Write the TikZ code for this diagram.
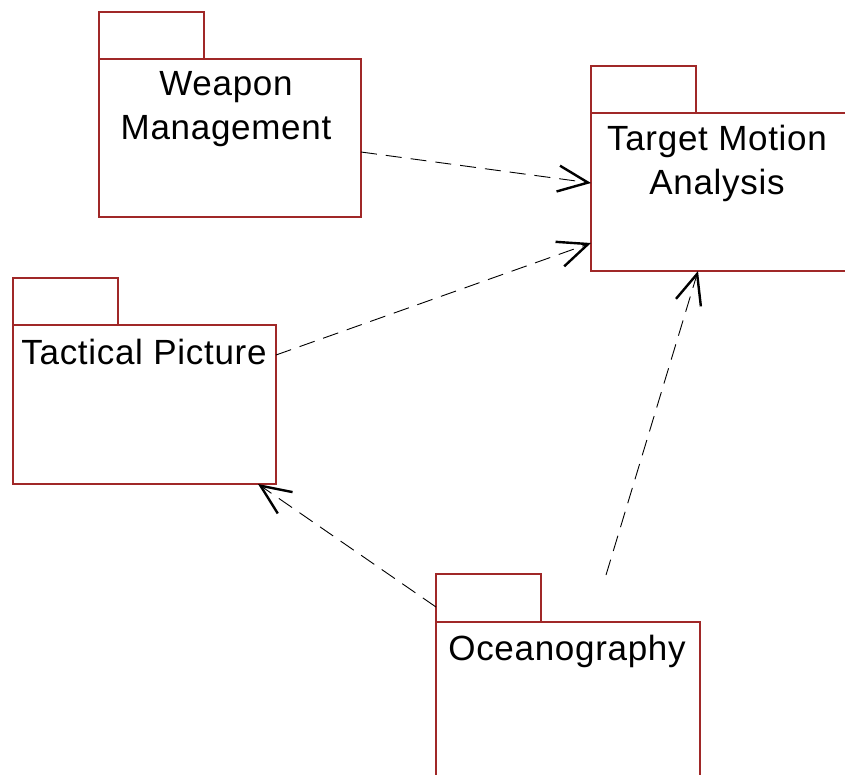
\documentclass[tikz,border=0pt]{standalone}
\usepackage{fontspec}
\setmainfont[LetterSpace=2]{Liberation Sans}
\usetikzlibrary{arrows.meta}
\definecolor{pkgred}{RGB}{160,40,40}
\tikzset{
  pkgbody/.style={draw=pkgred, line width=1.3pt, minimum width=262pt, minimum height=158pt, anchor=north west, inner sep=0pt, outer sep=0pt},
  pkgtab/.style={draw=pkgred, line width=1.3pt, minimum width=105pt, minimum height=47pt, anchor=south west, inner sep=0pt, outer sep=0pt},
  pkglabel/.style={font=\fontsize{35}{44}\selectfont, align=center, anchor=north, inner sep=0pt, text=black},
  dep/.style={draw=black, line width=0.9pt, dash pattern=on 16pt off 9pt, -{Straight Barb[length=30pt,width=26pt,line width=2.4pt]}}
}
\begin{document}
\begin{tikzpicture}[x=1pt,y=1pt]
\useasboundingbox (0,0) rectangle (845,-774);
\clip (0,0) rectangle (845,-774);
% Weapon Management
\node[pkgbody] (wm) at (99,-59) {};
\node[pkgtab] (wmtab) at (wm.north west) {};
\node[pkglabel] (wmlabel) at (226,-71) {Weapon\\Management};
% Target Motion Analysis
\node[pkgbody] (tma) at (591,-113) {};
\node[pkgtab] (tmatab) at (tma.north west) {};
\node[pkglabel] (tmalabel) at (717,-125) {Target Motion\\Analysis};
% Tactical Picture
\node[pkgbody, minimum width=263pt, minimum height=159pt] (tp) at (13,-325) {};
\node[pkgtab] (tptab) at (tp.north west) {};
\node[pkglabel] (tplabel) at (144,-339) {Tactical Picture};
% Oceanography
\node[pkgbody, minimum width=264pt, minimum height=170pt] (oc) at (436,-622) {};
\node[pkgtab, minimum height=48pt] (octab) at (oc.north west) {};
\node[pkglabel] (oclabel) at (567,-635) {Oceanography};
% connectors
\coordinate (ocfree) at (606,-575);
\draw[dep] ([yshift=-14pt]wm.east) -- ([yshift=9pt]tma.west);
\draw[dep] ([yshift=-30pt]tp.north east) -- ([yshift=-51pt]tma.west);
\draw[dep] ([yshift=-9pt]octab.west) -- ([xshift=-18pt]tp.south east);
\draw[dep] (ocfree) -- ([xshift=-24pt]tma.south);
\end{tikzpicture}
\end{document}
